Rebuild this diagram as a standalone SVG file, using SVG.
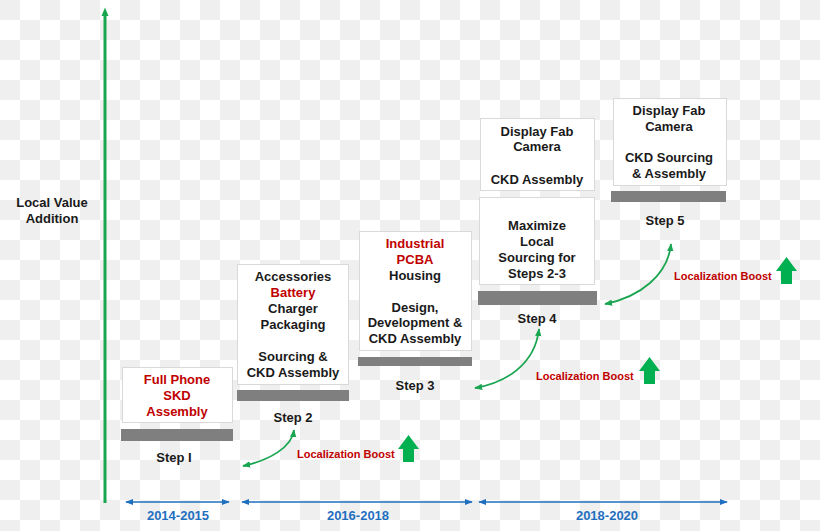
<svg xmlns="http://www.w3.org/2000/svg" width="820" height="531" viewBox="0 0 820 531">
<style>
.t{font-family:"Liberation Sans",Arial,sans-serif;font-weight:bold;font-size:13px;fill:#1a1a1a;text-anchor:middle}
.r{fill:#c00000}
.boost{font-family:"Liberation Sans",Arial,sans-serif;font-weight:bold;font-size:11px;fill:#c00000}
.yr{font-family:"Liberation Sans",Arial,sans-serif;font-weight:bold;font-size:13px;fill:#1f6fbf;text-anchor:middle}
.box{fill:#ffffff;stroke:#d9d9d9;stroke-width:1}
.bar{fill:#7f7f7f}
.tl{stroke:#1f6fbf;stroke-width:1.6;fill:none;marker-start:url(#ba);marker-end:url(#ba)}
.cv{stroke:#1aa650;stroke-width:1.8;fill:none;marker-start:url(#ga);marker-end:url(#ga)}
.up{fill:#00b050}
</style>
<defs>
<pattern id="chk" width="40" height="40" patternUnits="userSpaceOnUse">
<rect width="40" height="40" fill="#ffffff"/>
<rect x="0" y="0" width="20" height="20" fill="#efefef"/>
<rect x="20" y="20" width="20" height="20" fill="#efefef"/>
</pattern>
<marker id="ba" viewBox="0 0 10 10" refX="9" refY="5" markerWidth="8" markerHeight="8" markerUnits="userSpaceOnUse" orient="auto-start-reverse">
<path d="M0,1 L10,5 L0,9 Z" fill="#1f6fbf"/>
</marker>
<marker id="ga" viewBox="0 0 10 10" refX="9" refY="5" markerWidth="8" markerHeight="8" markerUnits="userSpaceOnUse" orient="auto-start-reverse">
<path d="M0,1 L10,5 L0,9 Z" fill="#1aa650"/>
</marker>
<path id="uparrow" d="M0,14 L10.5,0 L21,14 L16,14 L16,27 L5,27 L5,14 Z"/>
</defs>
<rect width="820" height="531" fill="url(#chk)"/>

<g id="axis">
<line x1="105" y1="14" x2="105" y2="503" stroke="#1aa650" stroke-width="3"/>
<path d="M101.5,16 L105,7.5 L108.5,16 Z" fill="#1aa650"/>
<text class="t" x="52" y="207">Local Value</text>
<text class="t" x="52" y="223">Addition</text>
</g>

<g id="step1">
<rect class="box" x="122.5" y="367.5" width="110" height="55"/>
<text class="t r" x="177" y="384">Full Phone</text>
<text class="t r" x="177" y="400">SKD</text>
<text class="t r" x="177" y="416">Assembly</text>
<rect class="bar" x="121" y="429" width="112" height="12"/>
<text class="t" x="174" y="462">Step I</text>
</g>

<g id="step2">
<rect class="box" x="237.5" y="264.5" width="111" height="120"/>
<text class="t" x="293" y="281">Accessories</text>
<text class="t r" x="293" y="297">Battery</text>
<text class="t" x="293" y="313">Charger</text>
<text class="t" x="293" y="329">Packaging</text>
<text class="t" x="293" y="361">Sourcing &amp;</text>
<text class="t" x="293" y="377">CKD Assembly</text>
<rect class="bar" x="237" y="390" width="112" height="11"/>
<text class="t" x="293" y="422">Step 2</text>
</g>

<g id="step3">
<rect class="box" x="359.5" y="231.5" width="112" height="119"/>
<text class="t r" x="415" y="248">Industrial</text>
<text class="t r" x="415" y="264">PCBA</text>
<text class="t" x="415" y="280">Housing</text>
<text class="t" x="415" y="312">Design,</text>
<text class="t" x="415" y="327">Development &amp;</text>
<text class="t" x="415" y="343">CKD Assembly</text>
<rect class="bar" x="358" y="357" width="114" height="9"/>
<text class="t" x="415" y="390">Step 3</text>
</g>

<g id="step4">
<rect class="box" x="480.5" y="118.5" width="114" height="72"/>
<text class="t" x="537" y="136">Display Fab</text>
<text class="t" x="537" y="151">Camera</text>
<text class="t" x="537" y="184">CKD Assembly</text>
<rect class="box" x="479.5" y="197.5" width="115" height="87"/>
<text class="t" x="537" y="230">Maximize</text>
<text class="t" x="537" y="246">Local</text>
<text class="t" x="537" y="262">Sourcing for</text>
<text class="t" x="537" y="278">Steps 2-3</text>
<rect class="bar" x="478" y="291" width="119" height="14"/>
<text class="t" x="537" y="323">Step 4</text>
</g>

<g id="step5">
<rect class="box" x="613.5" y="98.5" width="113" height="87"/>
<text class="t" x="669" y="115">Display Fab</text>
<text class="t" x="669" y="131">Camera</text>
<text class="t" x="669" y="162">CKD Sourcing</text>
<text class="t" x="669" y="178">&amp; Assembly</text>
<rect class="bar" x="611" y="191" width="115" height="11"/>
<text class="t" x="665" y="225">Step 5</text>
</g>

<g id="boost1">
<text class="boost" x="297" y="458">Localization Boost</text>
<use href="#uparrow" class="up" x="398" y="435"/>
</g>
<g id="boost2">
<text class="boost" x="536" y="380">Localization Boost</text>
<use href="#uparrow" class="up" x="639" y="357"/>
</g>
<g id="boost3">
<text class="boost" x="674" y="280">Localization Boost</text>
<use href="#uparrow" class="up" x="776" y="257"/>
</g>

<g id="connectors">
<path class="cv" d="M243,466 C270,460 292,447 294,430"/>
<path class="cv" d="M475,388 C505,383 535,365 539,329"/>
<path class="cv" d="M605,304 C640,297 668,275 671,244"/>
<line class="tl" x1="126" y1="502" x2="229" y2="502"/>
<line class="tl" x1="242" y1="502" x2="472" y2="502"/>
<line class="tl" x1="479" y1="502" x2="727" y2="502"/>
</g>

<g id="years">
<text class="yr" x="178" y="520">2014-2015</text>
<text class="yr" x="358" y="520">2016-2018</text>
<text class="yr" x="607" y="520">2018-2020</text>
</g>
</svg>
